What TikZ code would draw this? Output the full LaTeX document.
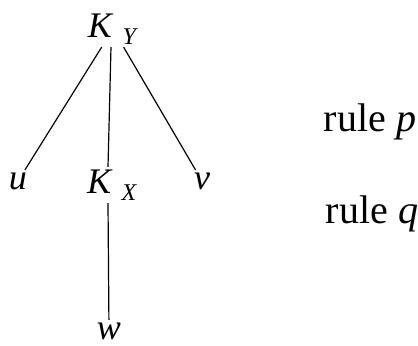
\documentclass[tikz,border=0pt]{standalone}
\usepackage{fontspec}
\setmainfont{Liberation Serif}
\usepackage{tikz}

\newcommand{\kname}[1]{\textit{K}\hspace{0.25em}\raisebox{-0.45ex}{\fontsize{12}{14}\selectfont\textit{#1}}}

\begin{document}
\begin{tikzpicture}[x=0.5pt,y=-0.5pt,font=\fontsize{18}{22}\selectfont,inner sep=1pt,line width=0.6pt]
  \useasboundingbox (0,0) rectangle (418,346);
  % tree
  \node (ky) at (113,29) {\kname{Y}};
  \node (u) at (18,181) {\textit{u}};
  \node (kx) at (112,185) {\kname{X}};
  \node (v) at (202,181) {\textit{v}};
  \node (w) at (109,331) {\textit{w}};
  \draw (ky) -- (u);
  \draw (ky.south) ++(-2,0) -- (kx.north -| 108,0);
  \draw (ky) -- (v);
  \draw (kx.south -| 108,0) -- (w);
  % rules
  \node[font=\fontsize{20}{24}\selectfont] (rp) at (370,122) {rule \textit{p}};
  \node[font=\fontsize{20}{24}\selectfont] (rq) at (372,214) {rule \textit{q}};
\end{tikzpicture}
\end{document}
